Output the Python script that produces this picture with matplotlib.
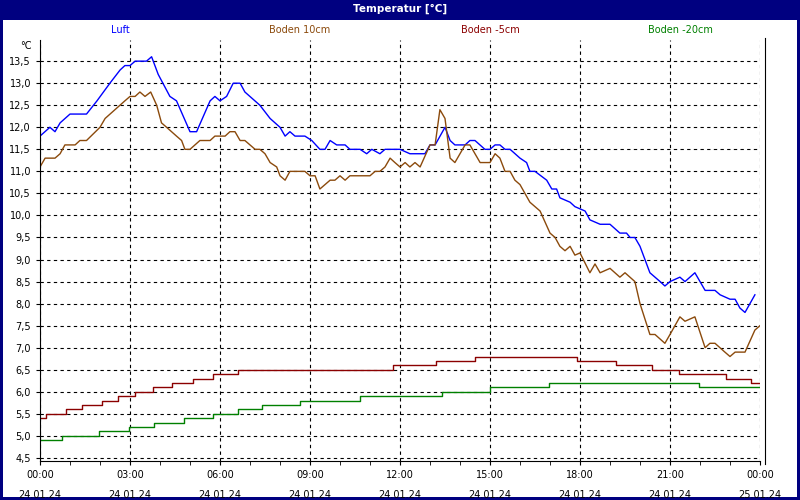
import matplotlib.pyplot as plt
from matplotlib.ticker import FuncFormatter, MultipleLocator

# hours since 00:00 on 24.01.24
luft_h = [0, 0.33, 0.5, 0.67, 1.0, 1.55, 1.9, 2.33, 2.67, 2.83, 3.0, 3.17, 3.55, 3.72, 3.94,
          4.33, 4.55, 5.0, 5.22, 5.67, 5.83, 6.0, 6.22, 6.44, 6.67, 6.83, 7.33, 7.67, 8.0,
          8.17, 8.33, 8.5, 8.83, 9.06, 9.33, 9.5, 9.67, 9.89, 10.17, 10.33, 10.67, 10.89,
          11.06, 11.33, 11.5, 12.0, 12.33, 12.83, 13.0, 13.17, 13.5, 13.67, 13.83, 14.17,
          14.33, 14.5, 14.83, 15.0, 15.17, 15.33, 15.5, 15.67, 16.0, 16.22, 16.33, 16.5,
          16.89, 17.06, 17.22, 17.33, 17.67, 17.83, 18.0, 18.17, 18.33, 18.67, 19.0, 19.33,
          19.55, 19.67, 19.83, 20.0, 20.33, 20.67, 20.83, 21.0, 21.33, 21.5, 21.83, 22.17,
          22.5, 22.67, 23.0, 23.17, 23.33, 23.5, 23.83]
luft = [11.8, 12.0, 11.9, 12.1, 12.3, 12.3, 12.6, 13.0, 13.3, 13.4, 13.4, 13.5, 13.5, 13.6, 13.2,
        12.7, 12.6, 11.9, 11.9, 12.6, 12.7, 12.6, 12.7, 13.0, 13.0, 12.8, 12.5, 12.2, 12.0,
        11.8, 11.9, 11.8, 11.8, 11.7, 11.5, 11.5, 11.7, 11.6, 11.6, 11.5, 11.5, 11.4,
        11.5, 11.4, 11.5, 11.5, 11.4, 11.4, 11.6, 11.6, 12.0, 11.7, 11.6, 11.6,
        11.7, 11.7, 11.5, 11.5, 11.6, 11.6, 11.5, 11.5, 11.3, 11.2, 11.0, 11.0,
        10.8, 10.6, 10.6, 10.4, 10.3, 10.2, 10.15, 10.1, 9.9, 9.8, 9.8, 9.6,
        9.6, 9.5, 9.5, 9.3, 8.7, 8.5, 8.4, 8.5, 8.6, 8.5, 8.7, 8.3,
        8.3, 8.2, 8.1, 8.1, 7.9, 7.8, 8.2]

b10_h = [0, 0.17, 0.5, 0.67, 0.83, 1.17, 1.33, 1.55, 2.0, 2.17, 2.5, 2.83, 3.0, 3.17, 3.33,
         3.5, 3.69, 3.89, 4.05, 4.22, 4.55, 4.72, 4.83, 5.0, 5.33, 5.67, 5.83, 6.17, 6.33,
         6.5, 6.67, 6.83, 7.17, 7.33, 7.5, 7.67, 7.89, 8.0, 8.17, 8.33, 8.83, 9.0, 9.17,
         9.33, 9.67, 9.83, 10.0, 10.17, 10.33, 11.0, 11.17, 11.33, 11.5, 11.67, 11.83,
         12.0, 12.17, 12.33, 12.5, 12.67, 13.0, 13.17, 13.33, 13.5, 13.67, 13.83, 14.17,
         14.33, 14.67, 15.0, 15.17, 15.33, 15.5, 15.67, 15.83, 16.0, 16.33, 16.67, 17.0,
         17.17, 17.33, 17.5, 17.67, 17.83, 18.0, 18.33, 18.5, 18.67, 19.0, 19.33, 19.5,
         19.83, 20.0, 20.33, 20.5, 20.83, 21.0, 21.33, 21.5, 21.83, 22.17, 22.33, 22.5,
         22.83, 23.0, 23.17, 23.5, 23.83, 24.0]
boden10 = [11.1, 11.3, 11.3, 11.4, 11.6, 11.6, 11.7, 11.7, 12.0, 12.2, 12.4, 12.6, 12.7, 12.7, 12.8,
           12.7, 12.8, 12.5, 12.1, 12.0, 11.8, 11.7, 11.5, 11.5, 11.7, 11.7, 11.8, 11.8, 11.9,
           11.9, 11.7, 11.7, 11.5, 11.5, 11.4, 11.2, 11.1, 10.9, 10.8, 11.0, 11.0, 10.9, 10.9,
           10.6, 10.8, 10.8, 10.9, 10.8, 10.9, 10.9, 11.0, 11.0, 11.1, 11.3, 11.2,
           11.1, 11.2, 11.1, 11.2, 11.1, 11.6, 11.6, 12.4, 12.2, 11.3, 11.2, 11.6,
           11.6, 11.2, 11.2, 11.4, 11.3, 11.0, 11.0, 10.8, 10.7, 10.3, 10.1, 9.6,
           9.5, 9.3, 9.2, 9.3, 9.1, 9.15, 8.7, 8.9, 8.7, 8.8, 8.6, 8.7,
           8.5, 8.0, 7.3, 7.3, 7.1, 7.3, 7.7, 7.6, 7.7, 7.0, 7.1, 7.1,
           6.9, 6.8, 6.9, 6.9, 7.4, 7.5]

# step series: time of change and new value
b5_h = [0, 0.2, 0.87, 1.4, 2.07, 2.6, 3.17, 3.77, 4.4, 5.1, 5.77, 6.6, 11.77, 13.2, 14.5,
        17.9, 19.2, 20.4, 21.3, 21.9, 22.85, 23.7, 24.0]
boden5 = [5.4, 5.5, 5.6, 5.7, 5.8, 5.9, 6.0, 6.1, 6.2, 6.3, 6.4, 6.5, 6.6, 6.7, 6.8,
          6.7, 6.6, 6.5, 6.4, 6.4, 6.3, 6.2, 6.2]
b20_h = [0, 0.73, 1.95, 2.97, 3.8, 4.8, 5.77, 6.6, 7.4, 8.67, 10.67, 13.4, 15.0, 16.95,
         21.97, 24.0]
boden20 = [4.9, 5.0, 5.1, 5.2, 5.3, 5.4, 5.5, 5.6, 5.7, 5.8, 5.9, 6.0, 6.1, 6.2, 6.1, 6.1]

xtick_labels = ['00:00\n24.01.24', '03:00\n24.01.24', '06:00\n24.01.24', '09:00\n24.01.24',
                '12:00\n24.01.24', '15:00\n24.01.24', '18:00\n24.01.24', '21:00\n24.01.24',
                '00:00\n25.01.24']

navy = '#000080'
c_luft, c_b10, c_b5, c_b20 = '#0000ff', '#8b4a0c', '#8b0000', '#008000'

plt.rcParams['font.family'] = 'DejaVu Sans'
fig = plt.figure(figsize=(8, 5), dpi=100)
fig.patch.set_facecolor(navy)
# white panel inside navy border
bg = fig.add_axes([0.004, 0.006, 0.992, 0.954])
bg.set_facecolor('white')
bg.set_xticks([])
bg.set_yticks([])
for s in bg.spines.values():
    s.set_visible(False)
bg.axvline(765 / 800 / 0.992 - 0.004 / 0.992, ymin=0.07, ymax=0.962, color='black', lw=0.8)

fig.text(0.5, 0.982, 'Temperatur [°C]', color='white', fontsize=7.5, fontweight='bold',
         ha='center', va='center')

ax = fig.add_axes([0.05, 0.078, 0.90, 0.842])
ax.set_facecolor('none')
ax.plot(luft_h, luft, color=c_luft, lw=1)
ax.plot(b10_h, boden10, color=c_b10, lw=1)
ax.step(b5_h, boden5, where='post', color=c_b5, lw=1)
ax.step(b20_h, boden20, where='post', color=c_b20, lw=1)

ax.set_xlim(0, 24)
ax.set_ylim(4.43, 13.98)
ax.set_xticks(range(0, 25, 3))
ax.set_xticklabels(xtick_labels, fontsize=7, linespacing=2.2)
ax.xaxis.set_minor_locator(MultipleLocator(1))
ax.yaxis.set_major_locator(MultipleLocator(0.5))
ax.yaxis.set_major_formatter(FuncFormatter(lambda v, p: f'{v:.1f}'.replace('.', ',')))
ax.tick_params(labelsize=7, length=3, direction='out')
ax.tick_params(axis='x', which='minor', length=3)
ax.grid(True, color='black', linestyle=(0, (3, 3)), lw=0.8)
for s in ['top', 'right']:
    ax.spines[s].set_visible(False)
ax.text(-0.012, 0.985, '°C', transform=ax.transAxes, fontsize=7, ha='right', va='center')

for x, lab, c in [(120, 'Luft', c_luft), (300, 'Boden 10cm', c_b10),
                  (490, 'Boden -5cm', c_b5), (680, 'Boden -20cm', c_b20)]:
    fig.text(x / 800, 1 - 30 / 500, lab, color=c, fontsize=7, ha='center', va='center')

fig.savefig('out.png', dpi=100, facecolor=navy)
